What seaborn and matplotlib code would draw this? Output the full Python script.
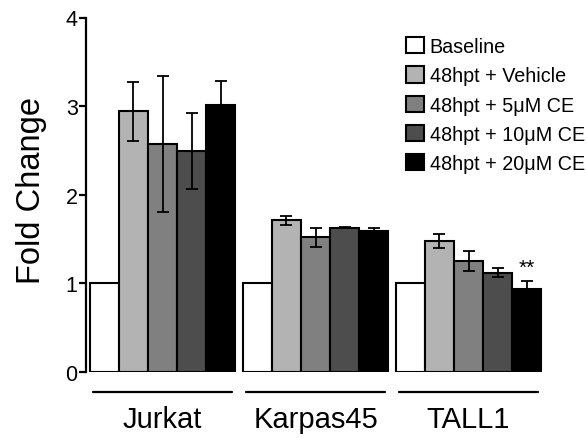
import numpy as np
import pandas as pd
import matplotlib
matplotlib.use('Agg')
import matplotlib.pyplot as plt
import matplotlib.transforms as mtransforms
import seaborn as sns

# values
cells = ['Jurkat', 'Karpas45', 'TALL1']
conditions = ['Baseline', '48hpt + Vehicle', '48hpt + 5\u03bcM CE',
              '48hpt + 10\u03bcM CE', '48hpt + 20\u03bcM CE']
baseline = [1.0, 1.0, 1.0]
vehicle = [2.94, 1.71, 1.48]
ce5 = [2.57, 1.52, 1.25]
ce10 = [2.49, 1.63, 1.12]
ce20 = [3.01, 1.59, 0.94]
baseline_err = [0.0, 0.0, 0.0]
vehicle_err = [0.33, 0.05, 0.08]
ce5_err = [0.77, 0.11, 0.11]
ce10_err = [0.43, 0.01, 0.05]
ce20_err = [0.27, 0.03, 0.09]
colors = ['#ffffff', '#b3b3b3', '#808080', '#4d4d4d', '#000000']

sns.set_style('ticks')
plt.rcParams['font.family'] = ['Liberation Sans', 'DejaVu Sans']
for key in ['text.color', 'axes.labelcolor', 'xtick.color', 'ytick.color', 'axes.edgecolor']:
    plt.rcParams[key] = 'black'

means = [baseline, vehicle, ce5, ce10, ce20]
errs = [baseline_err, vehicle_err, ce5_err, ce10_err, ce20_err]
df = pd.DataFrame({
    'cell': np.tile(cells, len(conditions)),
    'condition': np.repeat(conditions, len(cells)),
    'fold': np.concatenate(means),
})

fig = plt.figure(figsize=(5.87, 4.39), dpi=100)
ax = fig.add_axes([86/587, 1 - 373/439, 459/587, 354.5/439])

sns.barplot(data=df, x='cell', y='fold', hue='condition', order=cells,
            hue_order=conditions, palette=colors, width=0.95,
            edgecolor='black', linewidth=1.5, errorbar=None, legend=False,
            saturation=1, ax=ax)
bars = list(ax.containers)

# error bars (upper + lower, black)
for i, cont in enumerate(bars):
    for j, bar in enumerate(cont.patches):
        e = errs[i][j]
        if e <= 0:
            continue
        xc = bar.get_x() + bar.get_width() / 2
        ax.errorbar(xc, bar.get_height(), yerr=e, color='black',
                    elinewidth=1.3, capsize=4.5, capthick=1.3, zorder=3)

# significance marker on TALL1 20uM
bar = bars[4].patches[2]
ax.annotate('**', (bar.get_x() + bar.get_width() / 2, bar.get_height() + ce20_err[2]),
            xytext=(0, 3), textcoords='offset points', ha='center', va='bottom',
            fontsize=15)

ax.set_ylim(0, 4)
ax.set_xlim(-0.5, 2.5)
ax.set_yticks([0, 1, 2, 3, 4])
ax.set_ylabel('Fold Change', fontsize=23.5)
ax.yaxis.set_label_coords(-0.086, 0.516)
ax.set_xlabel('')
sns.despine(ax=ax, bottom=True)
ax.spines['left'].set_linewidth(1.6)
ax.tick_params(axis='y', labelsize=15.5, width=1.6, length=5, pad=1)
ax.tick_params(axis='x', labelsize=21, length=0, pad=24)

# group underlines below the axis
trans = mtransforms.blended_transform_factory(ax.transData, ax.transAxes)
for k in range(len(cells)):
    ax.plot([k - 0.457, k + 0.457], [-0.056, -0.056], color='black', lw=1.6,
            transform=trans, clip_on=False)

ax.legend(handles=bars, labels=conditions, loc='upper left',
          bbox_to_anchor=(406/587, 1 - 38/439), bbox_transform=fig.transFigure,
          frameon=False, fontsize=14.2, borderpad=0, borderaxespad=0,
          handlelength=0.9, handleheight=0.9, handletextpad=0.3,
          labelspacing=0.52)

fig.savefig('out.png', dpi=100)
